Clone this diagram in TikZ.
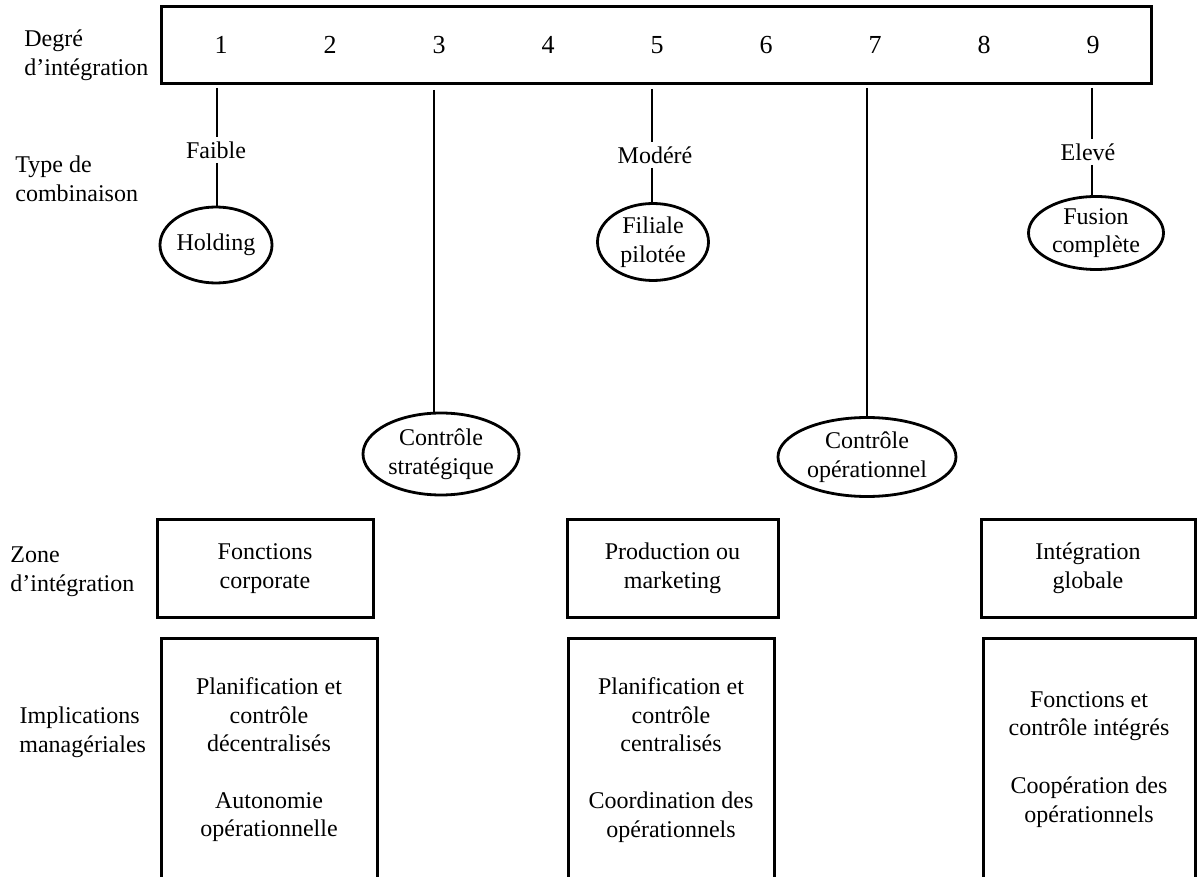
\documentclass[tikz,border=0pt]{standalone}
\usepackage{fontspec}
\setmainfont{Liberation Serif}
\usetikzlibrary{shapes.geometric}
\begin{document}
\begin{tikzpicture}[x=0.5pt,y=-0.5pt,
  every node/.style={font=\fontsize{12}{14.3}\selectfont},
  lbl/.style={align=left, anchor=west, inner sep=0pt},
  num/.style={font=\fontsize{13}{15}\selectfont, inner sep=0pt},
  tag/.style={inner sep=2pt},
  oval/.style={ellipse, draw, line width=1.4pt, inner sep=0pt, align=center},
  frame/.style={draw, line width=1.5pt, align=center, inner sep=0pt},
  conn/.style={line width=1.35pt},
  openbox/.style={line width=1.5pt},
  txt/.style={align=center, inner sep=0pt}]
\useasboundingbox (0,0) rectangle (1201,877);

% left-hand labels
\node[lbl] (ldeg) at (24,55) {Degré\\d’intégration};
\node[lbl] (ltype) at (15,179) {Type de\\combinaison};
\node[lbl] (lzone) at (10,572) {Zone\\d’intégration};
\node[lbl, align=center] (limpl) at (13,732) {Implications\\\hspace*{3pt}managériales};

% scale
\node[frame, minimum width=495pt, minimum height=38.5pt] (scale) at (656,45.5) {};
\foreach \i in {1,...,9} {
  \node[num] (d\i) at ({221+109*(\i-1)},45) {\i};
}

% drop points
\coordinate (t1) at (217,88);
\coordinate (t3) at (434,90);
\coordinate (t5) at (652,89);
\coordinate (t7) at (867,88);
\coordinate (t9) at (1092,88);

% level labels
\node[tag] (faible) at (216,150) {Faible};
\node[tag] (modere) at (655,155) {Modéré};
\node[tag] (eleve) at (1088,152) {Elevé};

% ellipses
\node[oval, minimum width=56pt, minimum height=38pt] (holding) at (216,245) {Holding};
\node[oval, minimum width=55.5pt, minimum height=38.5pt] (filiale) at (653,242) {Filiale\\pilotée};
\node[oval, minimum width=67.5pt, minimum height=36.5pt] (fusion) at (1096,233) {Fusion\\complète};
\node[oval, minimum width=78pt, minimum height=41pt] (cs) at (441,454) {Contrôle\\stratégique};
\node[oval, minimum width=89pt, minimum height=39.5pt] (co) at (867,457) {Contrôle\\opérationnel};

% connectors
\draw[conn] (t1) -- (t1 |- faible.north);
\draw[conn] (faible.south -| t1) -- (t1 |- holding.north);
\draw[conn] (t5) -- (t5 |- modere.north);
\draw[conn] (modere.south -| t5) -- (t5 |- filiale.north);
\draw[conn] (t9) -- (t9 |- eleve.north);
\draw[conn] (eleve.south -| t9) -- (t9 |- fusion.north);
\draw[conn] (t3) -- (t3 |- cs.north);
\draw[conn] (t7) -- (t7 |- co.north);

% zone boxes
\node[frame, minimum width=108pt, minimum height=48.5pt] (zc) at (265,568.5) {Fonctions\\corporate};
\node[frame, minimum width=105.5pt, minimum height=48.5pt] (zp) at (672.5,568.5) {Production ou\\marketing};
\node[frame, minimum width=107pt, minimum height=48.5pt] (zi) at (1088,568.5) {Intégration\\globale};

% implication boxes (open at the bottom)
\draw[openbox] (161,880) -- (161,638) -- (377,638) -- (377,880);
\draw[openbox] (568,880) -- (568,638) -- (774,638) -- (774,880);
\draw[openbox] (983,880) -- (983,638) -- (1195,638) -- (1195,880);

\node[txt] (i1a) at (269,715) {Planification et\\contrôle\\décentralisés};
\node[txt] (i1b) at (269,817) {Autonomie\\opérationnelle};
\node[txt] (i2a) at (671,715) {Planification et\\contrôle\\centralisés};
\node[txt] (i2b) at (671,817) {Coordination des\\opérationnels};
\node[txt] (i3a) at (1089,716) {Fonctions et\\contrôle intégrés};
\node[txt] (i3b) at (1089,802) {Coopération des\\opérationnels};
\end{tikzpicture}
\end{document}
